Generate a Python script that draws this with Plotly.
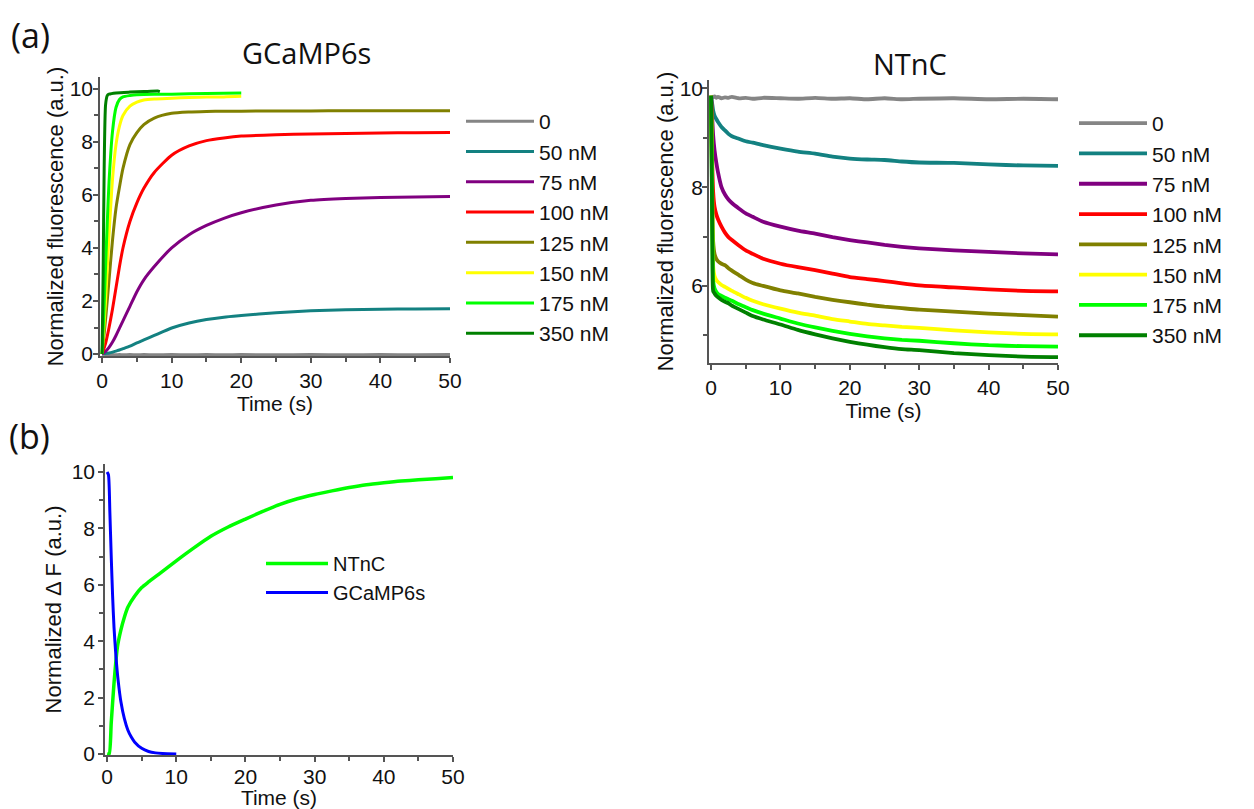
import plotly.graph_objects as go

# ---------------- data ----------------
CONC = ["0", "50 nM", "75 nM", "100 nM", "125 nM", "150 nM", "175 nM", "350 nM"]
COLORS = ["#858585", "#138181", "#800080", "#ff0000", "#808000", "#ffff00", "#00ff00", "#008000"]

# (a) GCaMP6s association
G_T = [0, 0.5, 1, 1.5, 2, 2.5, 3, 4, 5, 6, 7.5, 10, 12.5, 15, 17.5, 20, 25, 30, 35, 40, 45, 50]
G_0 = [0, -0.02, -0.03, -0.02, -0.03, -0.02, -0.03, -0.02, -0.03, -0.02, -0.03, -0.02,
       -0.03, -0.02, -0.03, -0.02, -0.03, -0.02, -0.03, -0.02, -0.03, -0.02]
G_50 = [0, 0.02, 0.04, 0.07, 0.11, 0.15, 0.2, 0.3, 0.42, 0.53, 0.7, 0.98, 1.17, 1.3,
        1.39, 1.45, 1.56, 1.63, 1.67, 1.69, 1.7, 1.71]
G_75 = [0, 0.1, 0.25, 0.45, 0.7, 0.98, 1.25, 1.8, 2.35, 2.8, 3.3, 4.0, 4.5, 4.85,
        5.12, 5.33, 5.62, 5.8, 5.87, 5.9, 5.92, 5.94]
G_100 = [0, 0.4, 1.0, 1.7, 2.5, 3.3, 4.0, 5.0, 5.7, 6.25, 6.85, 7.5, 7.85, 8.05,
         8.15, 8.22, 8.27, 8.3, 8.32, 8.34, 8.35, 8.36]
G_125 = [0, 1.3, 2.8, 4.3, 5.5, 6.3, 7.0, 7.9, 8.35, 8.65, 8.9, 9.08, 9.13, 9.15,
         9.16, 9.16, 9.17, 9.17, 9.18, 9.18, 9.18, 9.18]
G_T150 = [0, 0.5, 1, 1.5, 2, 2.5, 3, 4, 5, 6, 7.5, 10, 12.5, 15, 17.5, 20]
G_150 = [0, 2.0, 4.5, 6.6, 7.9, 8.6, 9.0, 9.35, 9.5, 9.58, 9.62, 9.65, 9.68, 9.7, 9.7, 9.72]
G_T175 = [0, 0.25, 0.5, 0.75, 1, 1.5, 2, 2.5, 3, 4, 5, 7.5, 10, 15, 20]
G_175 = [0, 1.5, 3.3, 5.0, 6.5, 8.4, 9.3, 9.6, 9.7, 9.75, 9.78, 9.8, 9.8, 9.83, 9.85]
G_T350 = [0, 0.15, 0.3, 0.5, 0.75, 1, 2, 4, 6, 8, 8.3]
G_350 = [0, 3.0, 7.0, 9.4, 9.75, 9.8, 9.85, 9.88, 9.9, 9.92, 9.9]

# (a) NTnC dissociation
N_T = [0, 0.1, 0.2, 0.3, 0.5, 0.75, 1, 1.5, 2, 2.5, 3, 4, 5, 6, 7.5, 10, 12.5, 15,
       17.5, 20, 22.5, 25, 27.5, 30, 35, 40, 45, 50]
N_0 = [9.85, 9.83, 9.81, 9.82, 9.84, 9.81, 9.83, 9.8, 9.82, 9.81, 9.83, 9.8, 9.81, 9.79,
       9.81, 9.8, 9.79, 9.81, 9.79, 9.8, 9.78, 9.8, 9.78, 9.79, 9.8, 9.78, 9.79, 9.78]
N_50 = [9.85, 9.75, 9.65, 9.55, 9.45, 9.38, 9.32, 9.22, 9.15, 9.08, 9.03, 8.98, 8.93, 8.9,
        8.85, 8.78, 8.72, 8.68, 8.62, 8.58, 8.56, 8.55, 8.52, 8.5, 8.49, 8.46, 8.44, 8.43]
N_75 = [9.85, 9.6, 9.3, 9.05, 8.75, 8.5, 8.3, 8.0, 7.85, 7.75, 7.68, 7.57, 7.47, 7.4,
        7.3, 7.2, 7.12, 7.06, 6.99, 6.93, 6.88, 6.83, 6.79, 6.76, 6.72, 6.69, 6.66, 6.64]
N_100 = [9.85, 9.0, 8.3, 7.9, 7.6, 7.45, 7.35, 7.2, 7.08, 6.99, 6.93, 6.82, 6.72, 6.65,
         6.55, 6.45, 6.38, 6.32, 6.25, 6.18, 6.14, 6.1, 6.05, 6.01, 5.97, 5.93, 5.9, 5.89]
N_125 = [9.85, 8.8, 7.6, 6.9, 6.65, 6.55, 6.5, 6.45, 6.42, 6.36, 6.31, 6.22, 6.13, 6.06,
         6.0, 5.91, 5.85, 5.78, 5.72, 5.67, 5.62, 5.58, 5.55, 5.52, 5.48, 5.44, 5.41, 5.38]
N_150 = [9.85, 8.6, 7.2, 6.4, 6.2, 6.12, 6.08, 6.02, 5.98, 5.94, 5.9, 5.83, 5.76, 5.7,
         5.63, 5.54, 5.46, 5.4, 5.33, 5.28, 5.23, 5.2, 5.17, 5.15, 5.1, 5.06, 5.03, 5.02]
N_175 = [9.85, 8.4, 6.9, 6.1, 5.95, 5.88, 5.84, 5.8, 5.76, 5.73, 5.7, 5.63, 5.57, 5.51,
         5.44, 5.34, 5.24, 5.16, 5.09, 5.03, 4.98, 4.94, 4.91, 4.89, 4.84, 4.8, 4.78, 4.77]
N_350 = [9.85, 8.2, 6.6, 5.9, 5.85, 5.8, 5.77, 5.72, 5.68, 5.65, 5.6, 5.53, 5.46, 5.39,
         5.32, 5.22, 5.11, 5.02, 4.94, 4.87, 4.81, 4.76, 4.72, 4.7, 4.64, 4.6, 4.57, 4.56]

# (b) normalized delta F
B_TN = [0, 0.3, 0.6, 1, 1.5, 2, 2.5, 3, 4, 5, 6, 7.5, 10, 12.5, 15, 17.5, 20, 22.5, 25,
        27.5, 30, 32.5, 35, 37.5, 40, 42.5, 45, 47.5, 50]
B_NTNC = [0, 0, 1.1, 2.5, 3.8, 4.4, 4.85, 5.2, 5.6, 5.9, 6.1, 6.38, 6.85, 7.3, 7.72, 8.05,
          8.33, 8.6, 8.85, 9.05, 9.2, 9.33, 9.45, 9.55, 9.62, 9.68, 9.72, 9.76, 9.8]
B_TG = [0, 0.2, 0.4, 0.6, 0.8, 1, 1.3, 1.6, 2, 2.5, 3, 3.5, 4, 5, 6, 7, 8, 10]
B_GCAMP = [10, 9.9, 8.6, 7.0, 5.6, 4.5, 3.4, 2.6, 1.85, 1.25, 0.85, 0.6, 0.42, 0.2,
           0.09, 0.04, 0.02, 0.0]

G_X = [G_T, G_T, G_T, G_T, G_T, G_T150, G_T175, G_T350]
G_Y = [G_0, G_50, G_75, G_100, G_125, G_150, G_175, G_350]
N_Y = [N_0, N_50, N_75, N_100, N_125, N_150, N_175, N_350]

# ---------------- figure ----------------
W, H = 1254, 809
SANS = "Liberation Sans, Arial, sans-serif"
TICKFONT = dict(family=SANS, size=21, color="#111")
XTITLEFONT = dict(family=SANS, size=21, color="#111")
YTITLEFONT = dict(family=SANS, size=22, color="#111")
HEADFONT = dict(family="Open Sans, sans-serif", size=29, color="#111")

fig = go.Figure()

for name, c, xs, ys in zip(CONC, COLORS, G_X, G_Y):
    fig.add_trace(go.Scatter(x=xs, y=ys, mode="lines", name=name,
                             line=dict(color=c, width=3, shape="spline", smoothing=0.6),
                             xaxis="x", yaxis="y", legend="legend"))
for name, c, ys in zip(CONC, COLORS, N_Y):
    fig.add_trace(go.Scatter(x=N_T, y=ys, mode="lines", name=name,
                             line=dict(color=c, width=3.8, shape="spline", smoothing=0.6),
                             xaxis="x2", yaxis="y2", legend="legend2"))
fig.add_trace(go.Scatter(x=B_TN, y=B_NTNC, mode="lines", name="NTnC",
                         line=dict(color="#00ff00", width=3.5, shape="spline", smoothing=0.6),
                         xaxis="x3", yaxis="y3", legend="legend3"))
fig.add_trace(go.Scatter(x=B_TG, y=B_GCAMP, mode="lines", name="GCaMP6s",
                         line=dict(color="#0000ff", width=3, shape="spline", smoothing=0.6),
                         xaxis="x3", yaxis="y3", legend="legend3"))


def xax(domain, anchor, lab_shift=0, standoff=0):
    return dict(domain=domain, anchor=anchor, range=[-0.3, 50], tickvals=[0, 10, 20, 30, 40, 50],
                ticks="outside", ticklen=5, tickwidth=1.5, tickcolor="#555",
                minor=dict(tickvals=[5, 15, 25, 35, 45], ticks="outside", ticklen=4,
                           tickwidth=1.5, tickcolor="#555"),
                showline=True, linecolor="#555", linewidth=1.5, showgrid=False, zeroline=False,
                tickfont=TICKFONT, automargin=False, ticklabelstandoff=lab_shift,
                title=dict(text="Time (s)", font=XTITLEFONT, standoff=standoff))


def yax(domain, anchor, rng, major, minor, title, lab_shift, standoff):
    return dict(domain=domain, anchor=anchor, range=rng, tickvals=major,
                ticks="outside", ticklen=5, tickwidth=1.5, tickcolor="#555",
                minor=dict(tickvals=minor, ticks="outside", ticklen=4, tickwidth=1.5,
                           tickcolor="#555"),
                showline=True, linecolor="#555", linewidth=1.5, showgrid=False, zeroline=False,
                tickfont=TICKFONT, automargin=False, ticklabelstandoff=lab_shift,
                title=dict(text=title, font=YTITLEFONT, standoff=standoff))


def legend(x_px, y_px, size, itemwidth):
    return dict(x=x_px / W, y=1 - y_px / H, xanchor="left", yanchor="top",
                font=dict(family=SANS, size=size, color="#111"),
                bgcolor="rgba(0,0,0,0)", itemwidth=itemwidth, tracegroupgap=0)


fig.update_layout(
    width=W, height=H, margin=dict(l=0, r=0, t=0, b=0),
    paper_bgcolor="white", plot_bgcolor="white",
    xaxis=xax([100 / W, 450 / W], "y"),
    yaxis=yax([1 - 356 / H, 1 - 77 / H], "x", [-0.075, 10.45], [0, 2, 4, 6, 8, 10],
              [1, 3, 5, 7, 9], "Normalized fluorescence (a.u.)", -4, 0),
    xaxis2=xax([709 / W, 1058 / W], "y2"),
    yaxis2=yax([1 - 363 / H, 1 - 80 / H], "x2", [4.44, 10.17], [6, 8, 10], [5, 7, 9],
               "Normalized fluorescence (a.u.)", -5, 0),
    xaxis3=xax([105 / W, 453 / W], "y3", -3, 2),
    yaxis3=yax([1 - 755.4 / H, 1 - 463.5 / H], "x3", [-0.05, 10.3], [0, 2, 4, 6, 8, 10],
               [1, 3, 5, 7, 9], "Normalized \u0394 F (a.u.)", -1, 4),
    legend=legend(461, 101, 21, 68),
    legend2=legend(1074, 103, 21, 68),
    legend3=legend(261, 544, 20, 62),
    showlegend=True,
    annotations=[
        dict(text="(a)", x=31 / W, y=1 - 35 / H, xref="paper", yref="paper",
             showarrow=False, font=dict(HEADFONT, size=34), xanchor="center", yanchor="middle"),
        dict(text="(b)", x=29 / W, y=1 - 436 / H, xref="paper", yref="paper",
             showarrow=False, font=dict(HEADFONT, size=34), xanchor="center", yanchor="middle"),
        dict(text="GCaMP6s", x=306 / W, y=1 - 53 / H, xref="paper", yref="paper",
             showarrow=False, font=HEADFONT, xanchor="center", yanchor="middle"),
        dict(text="NTnC", x=910 / W, y=1 - 63 / H, xref="paper", yref="paper",
             showarrow=False, font=HEADFONT, xanchor="center", yanchor="middle"),
    ],
)

fig.write_html("out.html")
